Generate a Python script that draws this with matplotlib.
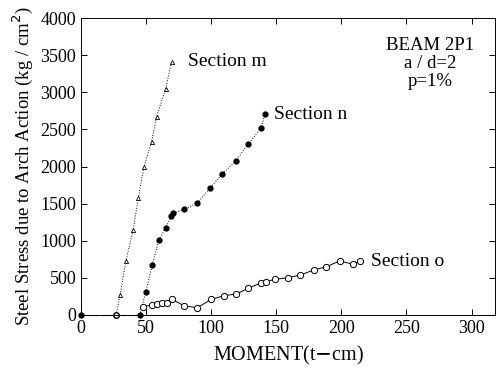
import numpy as np
import matplotlib.pyplot as plt

plt.rcParams['font.family'] = ['Liberation Serif', 'DejaVu Serif']

# Section m (small open markers, dotted)
m_x = [0, 27, 30, 34.5, 40, 44, 48.3, 54.2, 58, 65, 69.6]
m_y = [0, 0, 270, 730, 1145, 1570, 1995, 2335, 2670, 3050, 3410]

# Section n (filled dots)
n_x = [0, 45.2, 49.6, 54.7, 59.8, 65, 69.5, 70.3, 79, 89, 98.9, 108.4, 118.9, 128.3, 138.6, 141.1]
n_y = [0, 0, 305, 673, 1009, 1176, 1332, 1369, 1422, 1503, 1705, 1898, 2077, 2301, 2526, 2705]

# Section o (open circles)
o_x = [47.8, 54.2, 58, 62.4, 65.7, 70, 79, 89.2, 100.2, 109.7, 119.4, 128.3, 138.6, 141.9,
       148.8, 159, 168.5, 178.7, 188.4, 198.6, 208.8, 214.5]
o_y = [112, 135, 148, 157, 166, 211, 125, 98, 211, 260, 283, 359, 435, 449,
       480, 502, 538, 606, 650, 727, 686, 727]

fig = plt.figure(figsize=(4.97, 3.71), dpi=100)
ax = fig.add_axes([0.163, 0.151, 0.833, 0.80])

ax.plot(n_x[:2], n_y[:2], color='black', lw=0.8, ls=(0, (4, 2)), clip_on=False)
ax.plot(m_x[1:], m_y[1:], color='black', lw=0.7, ls=':', marker='^', ms=3,
        mfc='white', mec='black', mew=0.6, clip_on=False)
ax.plot(n_x[1:], n_y[1:], color='black', lw=0.7, ls=':', marker='o', ms=3.5,
        mfc='black', mec='black', clip_on=False)
ax.plot(o_x, o_y, color='black', lw=0.7, ls='-', marker='o', ms=4.5,
        mfc='white', mec='black', mew=0.7, clip_on=False)
ax.plot([0], [0], 'o', color='black', ms=3.5, clip_on=False)
ax.plot([27], [0], 'o', mfc='white', mec='black', ms=4, clip_on=False)

ax.text(82, 3410, 'Section m', fontsize=14, va='center')
ax.text(148, 2705, 'Section n', fontsize=14, va='center')
ax.text(223, 727, 'Section o', fontsize=14, va='center')
ax.text(268, 3740, 'BEAM 2P1\na / d=2\np=1%', fontsize=13.5, ha='center', va='top',
        linespacing=1.05)

ax.set_xlim(0, 318)
ax.set_ylim(0, 4000)
ax.set_xticks(np.arange(0, 301, 50))
ax.set_yticks(np.arange(0, 4001, 500))
ax.tick_params(direction='in', top=True, right=True, labelsize=13, length=4, width=0.7)
for s in ax.spines.values():
    s.set_linewidth(0.7)

ax.set_xlabel('MOMENT(t$-$cm)', fontsize=14.5, labelpad=5)
ax.set_ylabel('Steel Stress due to Arch Action (kg / cm$^2$)', fontsize=13.5, labelpad=4)

fig.savefig('out.png', dpi=100)
